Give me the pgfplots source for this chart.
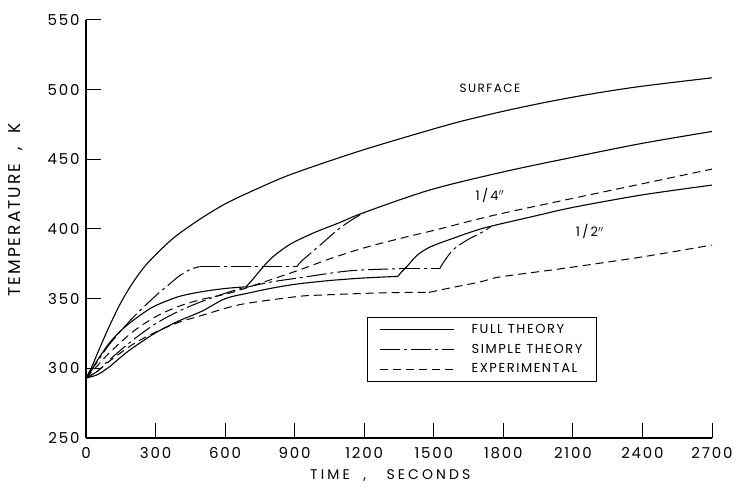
\documentclass[border=0pt]{standalone}
\usepackage{fontspec}
\setmainfont{Poppins}
\newfontfamily\lettering[LetterSpace=12]{Poppins}
\newfontfamily\widelettering[LetterSpace=22]{Poppins}
\usepackage{pgfplots}
\pgfplotsset{compat=1.18}

\tikzset{
  full/.style={black, line width=1.1pt, solid},
  simple/.style={black, line width=1pt, dash pattern=on 20pt off 4pt on 3pt off 4pt},
  expt/.style={black, line width=1pt, dash pattern=on 8pt off 5pt},
}

\begin{document}
\begin{tikzpicture}
\path[use as bounding box] (-86pt,-56pt) rectangle (653pt,438pt);
\begin{axis}[
  at={(0,0)}, anchor=south west,
  scale only axis, width=626pt, height=418pt,
  xmin=0, xmax=2700, ymin=250, ymax=550,
  axis x line=bottom, axis y line=left,
  axis line style={-, line width=1.3pt},
  xtick={0,300,...,2700}, ytick={250,300,...,550},
  tick align=inside, major tick length=15pt,
  tick style={black, line width=1pt},
  /pgf/number format/1000 sep={},
  /pgf/number format/assume math mode=true,
  ticklabel style={font=\lettering\fontsize{15}{15}\selectfont},
  xticklabel style={yshift=-6pt},
  yticklabel style={xshift=-3pt},
  xlabel={TIME\ \ ,\ \ \ SECONDS},
  ylabel={TEMPERATURE\ \ ,\ \ K},
  every axis x label/.style={at={(axis description cs:0.486,-0.0900)}, anchor=center,
    font=\widelettering\fontsize{14}{14}\selectfont},
  every axis y label/.style={at={(axis description cs:-0.112,0.545)}, rotate=90, anchor=center,
    font=\lettering\fontsize{17}{17}\selectfont},
  legend image code/.code={\draw[#1] (0pt,0pt) -- (74pt,0pt);},
  legend style={at={(axis description cs:0.449,0.2895)}, anchor=north west,
    draw=black, line width=0.9pt, fill=white,
    inner xsep=12pt, inner ysep=5pt, row sep=5pt,
    font=\lettering\fontsize{13}{13}\selectfont,
    cells={anchor=west},
    /tikz/every odd column/.append style={column sep=15pt}},
  clip=false,
]
\addlegendimage{full}\addlegendentry{FULL THEORY}
\addlegendimage{simple}\addlegendentry{SIMPLE THEORY}
\addlegendimage{expt}\addlegendentry{EXPERIMENTAL}

% surface, full theory
\addplot[full, smooth, tension=0.5, forget plot] coordinates {
 (0,293) (25,301) (50,311) (100,330) (150,347) (200,361) (250,372.5) (300,381.5)
 (350,389.5) (400,396.5) (500,408) (600,418) (700,426) (850,437) (1000,446)
 (1200,457) (1400,467) (1600,476.5) (1800,484.5) (2000,491.5) (2200,497.5)
 (2400,502.5) (2700,508.5)};

% 1/4 in depth, full theory
\addplot[full, smooth, tension=0.5, forget plot] coordinates {
 (0,293) (25,299) (50,306) (100,318) (150,327) (200,334) (250,340) (300,345)
 (400,351.5) (500,355) (600,357.3) (690,358.5)};
\addplot[full, smooth, tension=0.5, forget plot] coordinates {
 (690,358.5) (720,364) (760,372) (806,380) (880,389) (979,397) (1100,405)
 (1194,411.5) (1483,428) (1800,441) (2100,451.5) (2400,461.5) (2700,470)};

% 1/4 in depth, simple theory
\addplot[simple, smooth, tension=0.5, forget plot] coordinates {
 (0,293) (50,305) (100,317) (200,336) (300,352) (350,359) (400,366)
 (450,371) (490,373)};
\addplot[simple, forget plot] coordinates {(490,373) (910,373)};
\addplot[simple, smooth, tension=0.5, forget plot] coordinates {
 (910,373) (930,377) (1000,387) (1090,400) (1160,408) (1200,411.5)};

% 1/4 in depth, experimental
\addplot[expt, smooth, tension=0.5, forget plot] coordinates {
 (0,293) (50,302) (100,311) (200,326) (300,337) (400,344.5) (500,349.5)
 (620,354) (750,361) (910,370) (1050,378.5) (1200,386.5) (1350,393)
 (1500,399) (1750,409.5) (2000,418.5) (2300,429) (2700,443)};

% 1/2 in depth, full theory
\addplot[full, smooth, tension=0.5, forget plot] coordinates {
 (0,293) (50,295.5) (100,301) (150,308) (200,314.5) (300,325.5) (400,334)
 (500,341) (600,350) (700,354) (800,357.5) (910,360.5) (1050,363)
 (1194,364.8) (1345,366)};
\addplot[full, smooth, tension=0.5, forget plot] coordinates {
 (1345,366) (1360,369) (1384,373) (1427,381) (1483,387) (1570,392.5)
 (1712,400.5) (1928,409) (2100,415.5) (2400,424.5) (2700,431.5)};

% 1/2 in depth, simple theory
\addplot[simple, smooth, tension=0.5, forget plot] coordinates {
 (0,293) (50,298) (100,306) (200,320) (300,332) (400,341) (500,348)
 (621,355) (700,358.5) (800,362) (922,365) (1138,370) (1354,371.5)};
\addplot[simple, forget plot] coordinates {(1354,371.5) (1526,371.5)};
\addplot[simple, smooth, tension=0.5, forget plot] coordinates {
 (1526,371.5) (1540,375.6) (1583,385) (1643,392) (1712,398) (1745,401.5)};

% 1/2 in depth, experimental
\addplot[expt, smooth, tension=0.5, forget plot] coordinates {
 (0,293) (50,298) (100,305) (200,317) (300,326) (400,333) (500,338)
 (621,344) (707,347) (910,351.5) (1000,352.5) (1281,354.2) (1480,354.5)};
\addplot[expt, smooth, tension=0.5, forget plot] coordinates {
 (1480,354.5) (1570,357.7) (1700,362) (1785,365.6) (2050,371.5)
 (2400,380) (2700,388.5)};

\node[font=\lettering\fontsize{12}{12}\selectfont] at (axis cs:1742,501) {SURFACE};
\node[font=\lettering\fontsize{13}{13}\selectfont] at (axis cs:1742,424.4) {1\,/\,4${}^{\prime\prime}$};
\node[font=\lettering\fontsize{13}{13}\selectfont] at (axis cs:2173,397.9) {1\,/\,2${}^{\prime\prime}$};
\end{axis}
\end{tikzpicture}
\end{document}
